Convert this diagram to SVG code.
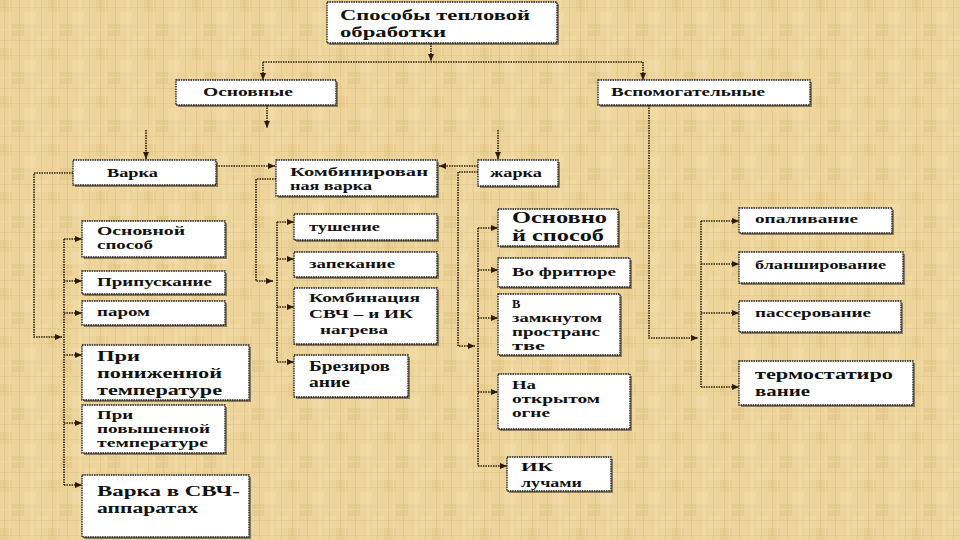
<svg xmlns="http://www.w3.org/2000/svg" width="960" height="540" viewBox="0 0 960 540">
<style>
.box{fill:#fff;stroke:#1c1c1c;stroke-width:1.3;stroke-dasharray:1.6 0.8}
.sh{fill:#3a3226;opacity:0.55}
.t{font-family:"Liberation Serif","Times New Roman",serif;font-weight:bold;fill:#111}
.c{fill:none;stroke:#2e200a;stroke-width:1.6;stroke-dasharray:1.5 1}
</style>
<defs>
<pattern id="bg" width="48" height="48" patternUnits="userSpaceOnUse">
<rect width="48" height="48" fill="#ecd49b"/>
<rect x="0" y="0" width="12" height="12" fill="#e8ce92"/>
<rect x="24" y="12" width="12" height="12" fill="#f0d9a4"/>
<rect x="12" y="24" width="12" height="12" fill="#e6cb8e"/>
<rect x="36" y="36" width="12" height="12" fill="#efd8a1"/>
<rect x="4" y="0" width="1" height="48" fill="#dcbf80" opacity="0.55"/>
<rect x="9" y="0" width="1" height="48" fill="#f4e0ae" opacity="0.6"/>
<rect x="19" y="0" width="1" height="48" fill="#d9bc7d" opacity="0.5"/>
<rect x="31" y="0" width="2" height="48" fill="#f3deab" opacity="0.55"/>
<rect x="41" y="0" width="1" height="48" fill="#dabd7e" opacity="0.5"/>
<rect x="0" y="7" width="48" height="1" fill="#e0c386" opacity="0.45"/>
<rect x="0" y="29" width="48" height="1" fill="#f2dca8" opacity="0.55"/>
<rect x="0" y="40" width="48" height="1" fill="#dcc083" opacity="0.45"/>
</pattern>
<marker id="ar" markerWidth="7" markerHeight="6" refX="7" refY="3" orient="auto" markerUnits="userSpaceOnUse">
<path d="M0,0 L7,3 L0,6 z" fill="#2a1a08"/>
</marker>
</defs>
<rect width="960" height="540" fill="url(#bg)"/>

<g id="connectors">
<path class="c" d="M431,43 V61" marker-end="url(#ar)"/>
<path class="c" d="M263,62 H643"/>
<path class="c" d="M263,62 V80" marker-end="url(#ar)"/>
<path class="c" d="M643,62 V80" marker-end="url(#ar)"/>
<path class="c" d="M267,105 V128" marker-end="url(#ar)"/>
<path class="c" d="M146,130 V159" marker-end="url(#ar)"/>
<path class="c" d="M498,130 V159" marker-end="url(#ar)"/>
<path class="c" d="M216,166 H275" marker-end="url(#ar)"/>
<path class="c" d="M478,166 H439" marker-end="url(#ar)"/>
<path class="c" d="M73,173 H34 V337 H62" marker-end="url(#ar)"/>
<path class="c" d="M64,239 V485"/>
<path class="c" d="M64,239 H82" marker-end="url(#ar)"/>
<path class="c" d="M64,281 H82" marker-end="url(#ar)"/>
<path class="c" d="M64,313 H82" marker-end="url(#ar)"/>
<path class="c" d="M64,355 H82" marker-end="url(#ar)"/>
<path class="c" d="M64,423 H82" marker-end="url(#ar)"/>
<path class="c" d="M64,485 H82" marker-end="url(#ar)"/>
<path class="c" d="M276,179 H256 V281 H273" marker-end="url(#ar)"/>
<path class="c" d="M277,222 V362"/>
<path class="c" d="M277,222 H294" marker-end="url(#ar)"/>
<path class="c" d="M277,259 H294" marker-end="url(#ar)"/>
<path class="c" d="M277,307 H294" marker-end="url(#ar)"/>
<path class="c" d="M277,362 H294" marker-end="url(#ar)"/>
<path class="c" d="M478,172 H458 V346 H475" marker-end="url(#ar)"/>
<path class="c" d="M478,228 V466"/>
<path class="c" d="M478,228 H498" marker-end="url(#ar)"/>
<path class="c" d="M478,270 H498" marker-end="url(#ar)"/>
<path class="c" d="M478,318 H498" marker-end="url(#ar)"/>
<path class="c" d="M478,392 H498" marker-end="url(#ar)"/>
<path class="c" d="M478,466 H507" marker-end="url(#ar)"/>
<path class="c" d="M649,105 V338 H698" marker-end="url(#ar)"/>
<path class="c" d="M701,221 V387"/>
<path class="c" d="M701,221 H739" marker-end="url(#ar)"/>
<path class="c" d="M701,264 H739" marker-end="url(#ar)"/>
<path class="c" d="M701,313 H739" marker-end="url(#ar)"/>
<path class="c" d="M701,387 H739" marker-end="url(#ar)"/>
</g>

<g id="title">
<rect class="sh" x="329" y="4" width="230" height="41"/>
<rect class="box" x="327" y="2" width="230" height="41"/>
<text class="t" x="340" y="20" font-size="15" textLength="190" lengthAdjust="spacingAndGlyphs">Способы тепловой</text>
<text class="t" x="340" y="37" font-size="15" textLength="106" lengthAdjust="spacingAndGlyphs">обработки</text>
</g>

<g id="osnovnye">
<rect class="sh" x="178" y="82" width="160" height="25"/>
<rect class="box" x="176" y="80" width="160" height="25"/>
<text class="t" x="203" y="96" font-size="12" textLength="90" lengthAdjust="spacingAndGlyphs">Основные</text>
</g>

<g id="vspomogatelnye">
<rect class="sh" x="600" y="82" width="212" height="25"/>
<rect class="box" x="598" y="80" width="212" height="25"/>
<text class="t" x="611" y="96" font-size="12" textLength="154" lengthAdjust="spacingAndGlyphs">Вспомогательные</text>
</g>

<g id="varka">
<rect class="sh" x="75" y="162" width="143" height="25"/>
<rect class="box" x="73" y="160" width="143" height="25"/>
<text class="t" x="107" y="177" font-size="13" textLength="51" lengthAdjust="spacingAndGlyphs">Варка</text>
</g>

<g id="kombinirovannaya">
<rect class="sh" x="278" y="162" width="161" height="36"/>
<rect class="box" x="276" y="160" width="161" height="36"/>
<text class="t" x="290" y="176" font-size="12.5" textLength="138" lengthAdjust="spacingAndGlyphs">Комбинирован</text>
<text class="t" x="290" y="190" font-size="12.5" textLength="82" lengthAdjust="spacingAndGlyphs">ная варка</text>
</g>

<g id="zharka">
<rect class="sh" x="480" y="162" width="80" height="26"/>
<rect class="box" x="478" y="160" width="80" height="26"/>
<text class="t" x="490" y="177" font-size="13" textLength="52" lengthAdjust="spacingAndGlyphs">жарка</text>
</g>

<g id="v-osnovnoy">
<rect class="sh" x="84" y="223" width="143" height="36"/>
<rect class="box" x="82" y="221" width="143" height="36"/>
<text class="t" x="97" y="235" font-size="12" textLength="88" lengthAdjust="spacingAndGlyphs">Основной</text>
<text class="t" x="97" y="249" font-size="12" textLength="56" lengthAdjust="spacingAndGlyphs">способ</text>
</g>

<g id="v-pripuskanie">
<rect class="sh" x="84" y="273" width="143" height="23"/>
<rect class="box" x="82" y="271" width="143" height="23"/>
<text class="t" x="97" y="286" font-size="13" textLength="115" lengthAdjust="spacingAndGlyphs">Припускание</text>
</g>

<g id="v-parom">
<rect class="sh" x="84" y="303" width="143" height="24"/>
<rect class="box" x="82" y="301" width="143" height="24"/>
<text class="t" x="97" y="316" font-size="12" textLength="53" lengthAdjust="spacingAndGlyphs">паром</text>
</g>

<g id="v-ponizhennoy">
<rect class="sh" x="84" y="347" width="167" height="55"/>
<rect class="box" x="82" y="345" width="167" height="55"/>
<text class="t" x="97" y="361" font-size="15" textLength="43" lengthAdjust="spacingAndGlyphs">При</text>
<text class="t" x="97" y="378" font-size="15" textLength="125" lengthAdjust="spacingAndGlyphs">пониженной</text>
<text class="t" x="97" y="395" font-size="15" textLength="125" lengthAdjust="spacingAndGlyphs">температуре</text>
</g>

<g id="v-povyshennoy">
<rect class="sh" x="84" y="407" width="143" height="48"/>
<rect class="box" x="82" y="405" width="143" height="48"/>
<text class="t" x="97" y="419" font-size="12" textLength="36" lengthAdjust="spacingAndGlyphs">При</text>
<text class="t" x="97" y="433" font-size="12" textLength="113" lengthAdjust="spacingAndGlyphs">повышенной</text>
<text class="t" x="97" y="447" font-size="12" textLength="111" lengthAdjust="spacingAndGlyphs">температуре</text>
</g>

<g id="v-svch">
<rect class="sh" x="84" y="477" width="167" height="62"/>
<rect class="box" x="82" y="475" width="167" height="62"/>
<text class="t" x="97" y="496" font-size="15" textLength="143" lengthAdjust="spacingAndGlyphs">Варка в СВЧ-</text>
<text class="t" x="97" y="513" font-size="15" textLength="101" lengthAdjust="spacingAndGlyphs">аппаратах</text>
</g>

<g id="k-tushenie">
<rect class="sh" x="296" y="216" width="143" height="26"/>
<rect class="box" x="294" y="214" width="143" height="26"/>
<text class="t" x="309" y="231" font-size="12" textLength="71" lengthAdjust="spacingAndGlyphs">тушение</text>
</g>

<g id="k-zapekanie">
<rect class="sh" x="296" y="254" width="143" height="25"/>
<rect class="box" x="294" y="252" width="143" height="25"/>
<text class="t" x="309" y="268" font-size="12" textLength="86" lengthAdjust="spacingAndGlyphs">запекание</text>
</g>

<g id="k-kombinaciya">
<rect class="sh" x="296" y="290" width="143" height="56"/>
<rect class="box" x="294" y="288" width="143" height="56"/>
<text class="t" x="309" y="302" font-size="13.5" textLength="111" lengthAdjust="spacingAndGlyphs">Комбинация</text>
<text class="t" x="309" y="318" font-size="13.5" textLength="104" lengthAdjust="spacingAndGlyphs">СВЧ – и ИК</text>
<text class="t" x="320" y="334" font-size="13.5" textLength="68" lengthAdjust="spacingAndGlyphs">нагрева</text>
</g>

<g id="k-brezirovanie">
<rect class="sh" x="296" y="357" width="114" height="42"/>
<rect class="box" x="294" y="355" width="114" height="42"/>
<text class="t" x="309" y="371" font-size="14" textLength="81" lengthAdjust="spacingAndGlyphs">Брезиров</text>
<text class="t" x="309" y="387" font-size="14" textLength="41" lengthAdjust="spacingAndGlyphs">ание</text>
</g>

<g id="zh-osnovnoy">
<rect class="sh" x="500" y="211" width="120" height="37"/>
<rect class="box" x="498" y="209" width="120" height="37"/>
<text class="t" x="512" y="223" font-size="16" textLength="95" lengthAdjust="spacingAndGlyphs">Основно</text>
<text class="t" x="512" y="241" font-size="16" textLength="92" lengthAdjust="spacingAndGlyphs">й способ</text>
</g>

<g id="zh-frityur">
<rect class="sh" x="500" y="260" width="132" height="29"/>
<rect class="box" x="498" y="258" width="132" height="29"/>
<text class="t" x="512" y="276" font-size="13" textLength="104" lengthAdjust="spacingAndGlyphs">Во фритюре</text>
</g>

<g id="zh-zamknutom">
<rect class="sh" x="500" y="296" width="122" height="61"/>
<rect class="box" x="498" y="294" width="122" height="61"/>
<text class="t" x="512" y="308" font-size="12.5">В</text>
<text class="t" x="512" y="322" font-size="12.5" textLength="90" lengthAdjust="spacingAndGlyphs">замкнутом</text>
<text class="t" x="512" y="336" font-size="12.5" textLength="88" lengthAdjust="spacingAndGlyphs">пространс</text>
<text class="t" x="512" y="350" font-size="12.5" textLength="33" lengthAdjust="spacingAndGlyphs">тве</text>
</g>

<g id="zh-otkrytom">
<rect class="sh" x="500" y="376" width="132" height="55"/>
<rect class="box" x="498" y="374" width="132" height="55"/>
<text class="t" x="512" y="389" font-size="12.5" textLength="24" lengthAdjust="spacingAndGlyphs">На</text>
<text class="t" x="512" y="403" font-size="12.5" textLength="88" lengthAdjust="spacingAndGlyphs">открытом</text>
<text class="t" x="512" y="417" font-size="12.5" textLength="38" lengthAdjust="spacingAndGlyphs">огне</text>
</g>

<g id="zh-ik">
<rect class="sh" x="509" y="459" width="104" height="34"/>
<rect class="box" x="507" y="457" width="104" height="34"/>
<text class="t" x="521" y="471" font-size="13" textLength="32" lengthAdjust="spacingAndGlyphs">ИК</text>
<text class="t" x="521" y="487" font-size="13" textLength="61" lengthAdjust="spacingAndGlyphs">лучами</text>
</g>

<g id="r-opalivanie">
<rect class="sh" x="741" y="210" width="153" height="25"/>
<rect class="box" x="739" y="208" width="153" height="25"/>
<text class="t" x="755" y="223" font-size="12" textLength="103" lengthAdjust="spacingAndGlyphs">опаливание</text>
</g>

<g id="r-blanshirovanie">
<rect class="sh" x="741" y="254" width="164" height="31"/>
<rect class="box" x="739" y="252" width="164" height="31"/>
<text class="t" x="755" y="269" font-size="12" textLength="131" lengthAdjust="spacingAndGlyphs">бланширование</text>
</g>

<g id="r-passerovanie">
<rect class="sh" x="741" y="303" width="162" height="31"/>
<rect class="box" x="739" y="301" width="162" height="31"/>
<text class="t" x="755" y="317" font-size="12" textLength="116" lengthAdjust="spacingAndGlyphs">пассерование</text>
</g>

<g id="r-termostatirovanie">
<rect class="sh" x="741" y="363" width="174" height="44"/>
<rect class="box" x="739" y="361" width="174" height="44"/>
<text class="t" x="755" y="379" font-size="14.5" textLength="138" lengthAdjust="spacingAndGlyphs">термостатиро</text>
<text class="t" x="755" y="396" font-size="14.5" textLength="55" lengthAdjust="spacingAndGlyphs">вание</text>
</g>
</svg>
